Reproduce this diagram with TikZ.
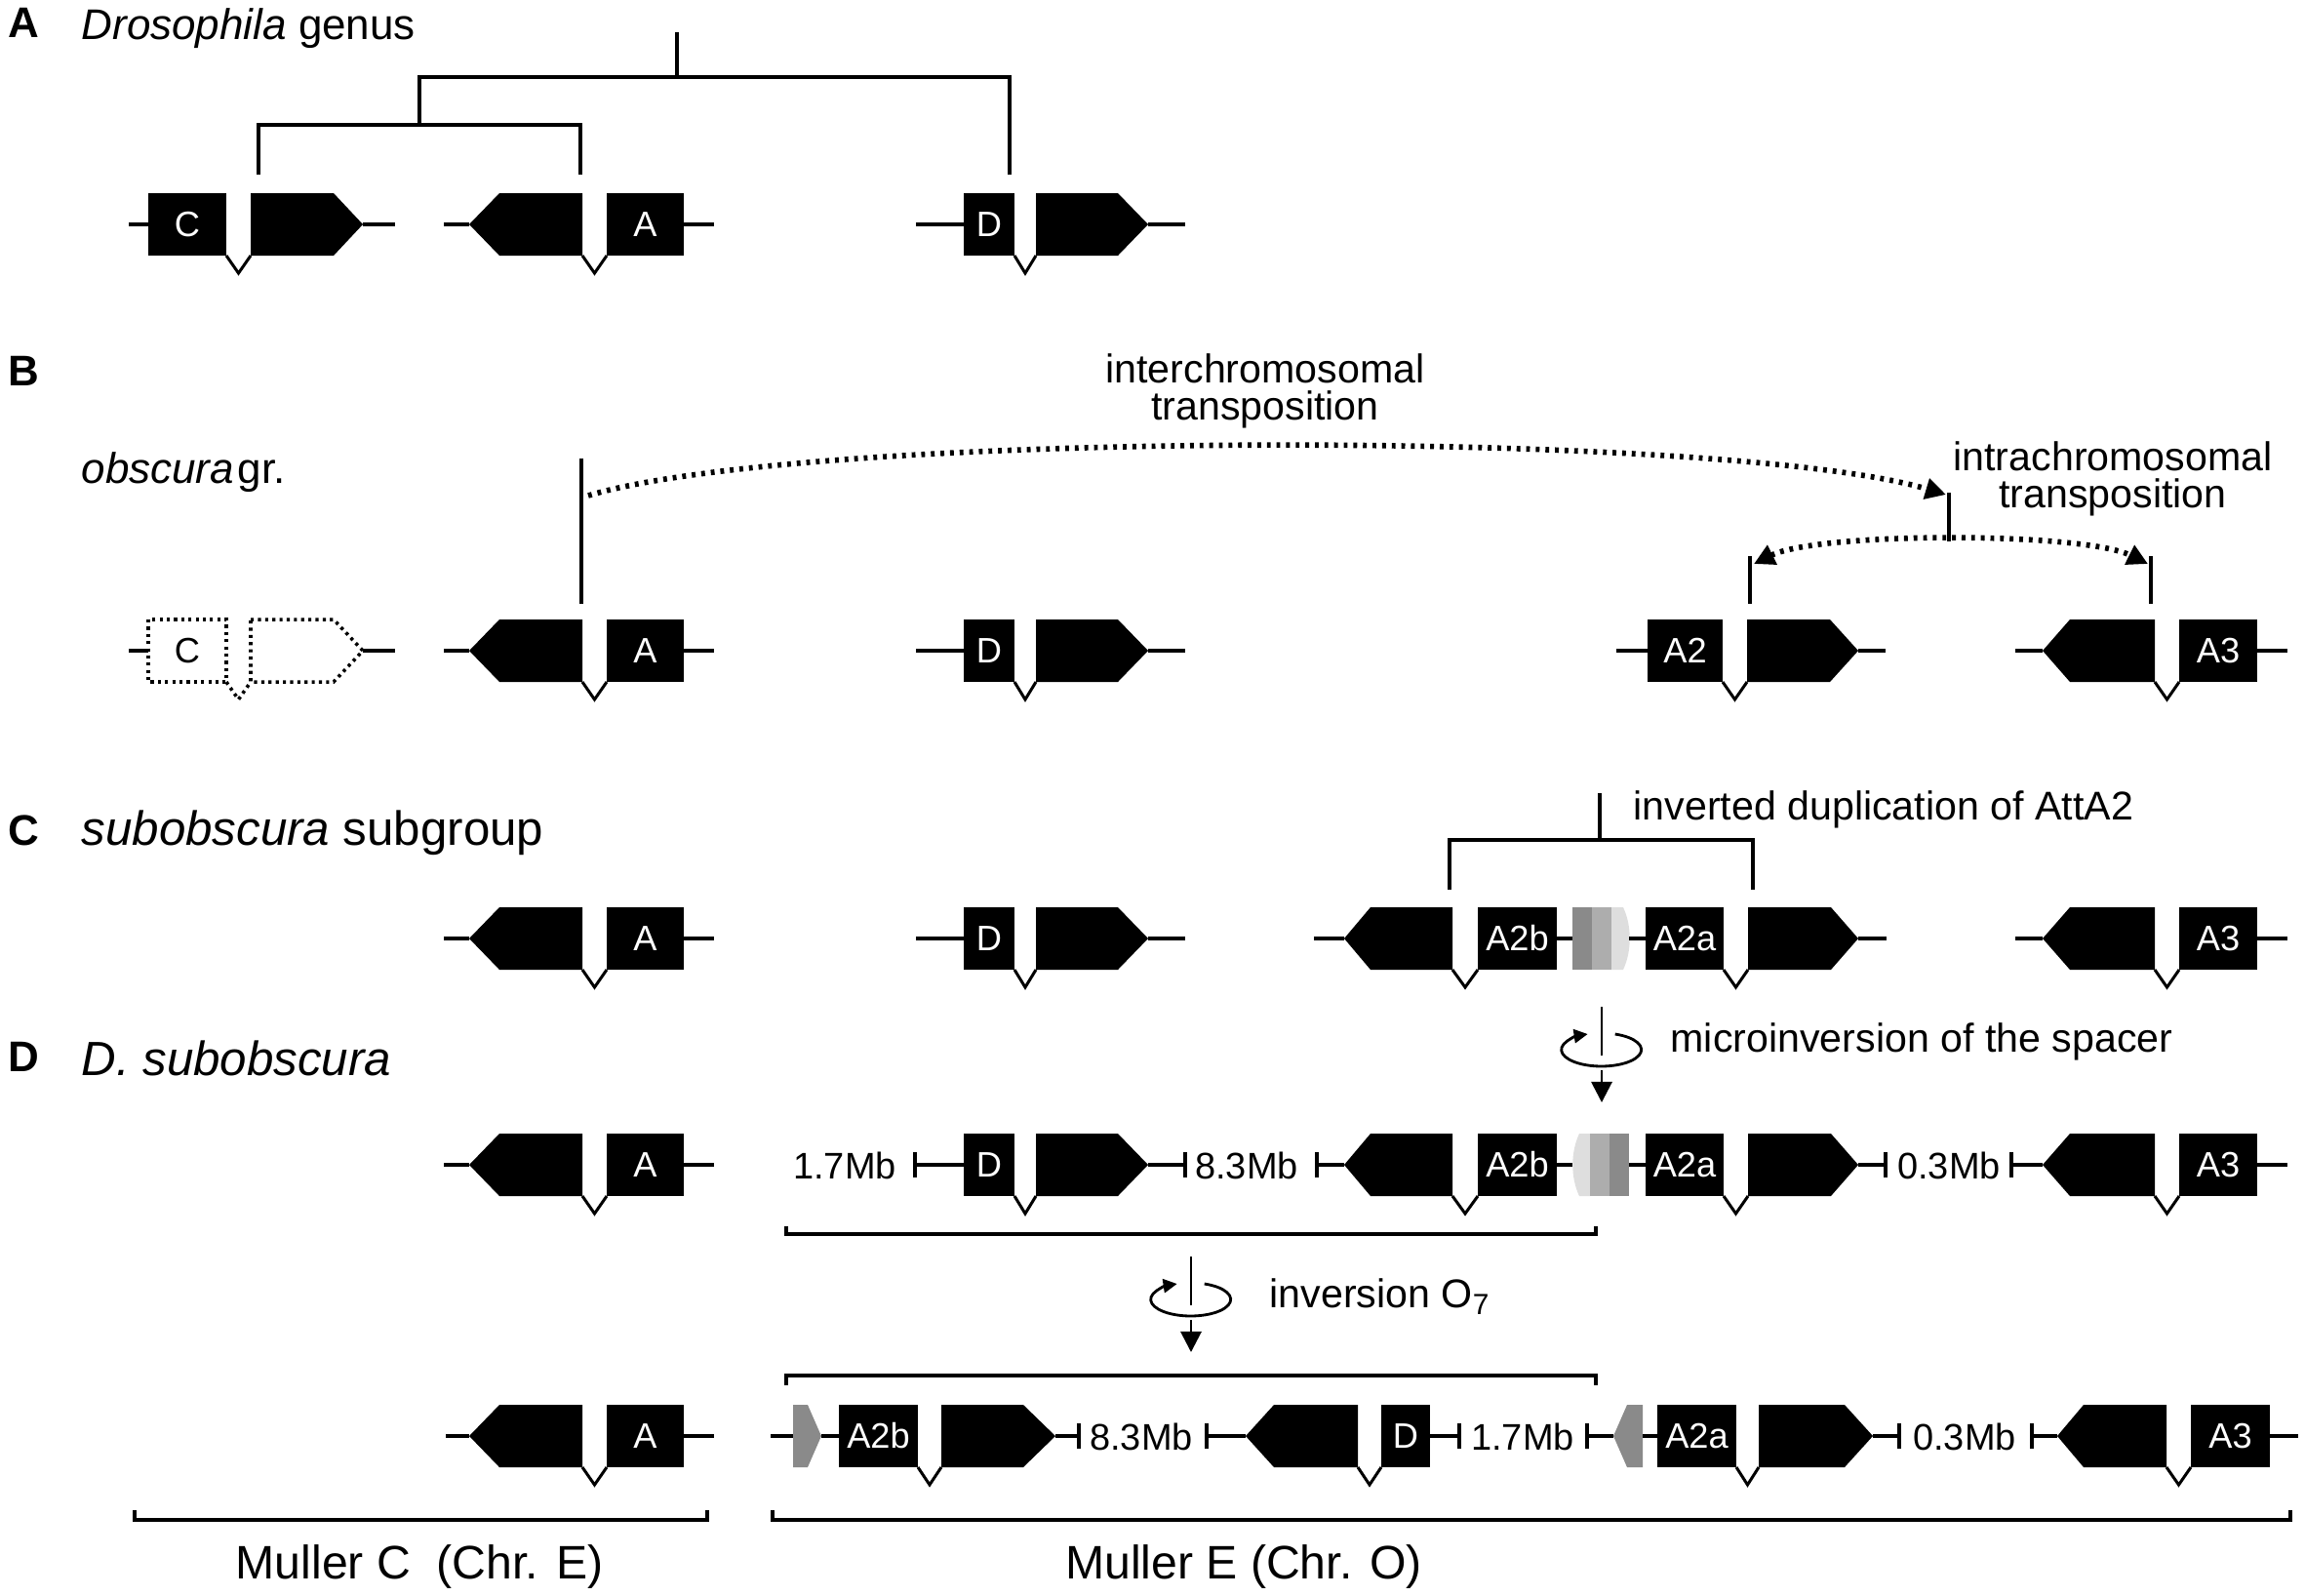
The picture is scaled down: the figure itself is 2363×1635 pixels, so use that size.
\documentclass[tikz,border=0pt]{standalone}
\usepackage{fontspec}
\setmainfont{Liberation Sans}
\usetikzlibrary{arrows.meta}
\newcounter{gcnt}
\definecolor{sdark}{HTML}{8A8A8A}
\definecolor{smid}{HTML}{ADADAD}
\definecolor{slight}{HTML}{DEDEDE}
\tikzset{
  chrom/.style={line width=1.35pt},
  treeln/.style={line width=1.15pt, line join=miter},
  vline/.style={line width=0.85pt, line join=miter},
  barst/.style={line width=1.1pt},
  glabel/.style={text=white, font=\fontsize{10.3}{12}\selectfont, inner sep=0pt},
  dotarr/.style={line width=1.6pt, dash pattern=on 1.1pt off 1.7pt},
  dotbox/.style={line width=1pt, dash pattern=on 0.9pt off 1.2pt},
  lab/.style={font=\fontsize{11.7}{10.8}\selectfont, inner sep=0pt},
  mbl/.style={font=\fontsize{10.8}{12}\selectfont, inner sep=0pt},
  ptitle/.style={font=\fontsize{12.5}{14}\selectfont, inner sep=0pt, anchor=base west},
  ptitleL/.style={font=\fontsize{14}{16}\selectfont, inner sep=0pt, anchor=base west},
  pletter/.style={font=\fontsize{12.5}{14}\selectfont\bfseries, inner sep=0pt, anchor=base west},
  muller/.style={font=\fontsize{13.7}{15}\selectfont, inner sep=0pt, anchor=base},
  tipA/.tip={Triangle[length=6pt,width=6pt]},
  tipB/.tip={Triangle[length=4pt,width=4pt]},
}
% forward gene: y, line start, box1 left, box1 right, box2 left, flat end, tip, line end, label
\newcommand{\fgene}[9]{%
  \draw[chrom] (#2,#1) -- (#3,#1);
  \draw[chrom] (#7,#1) -- (#8,#1);
  \fill (#3,{#1-32}) rectangle (#4,{#1+32});
  \stepcounter{gcnt}\node[glabel] (g\arabic{gcnt}) at ({(#3+#4)/2},#1) {#9};
  \fill (#5,{#1-32}) -- (#6,{#1-32}) -- (#7,#1) -- (#6,{#1+32}) -- (#5,{#1+32}) -- cycle;
  \draw[vline] (#4,{#1+32}) -- ({(#4+#5)/2},{#1+50}) -- (#5,{#1+32});
}
% reverse gene: y, line start, tip, flat start, box2 right, label box left, label box right, line end, label
\newcommand{\rgene}[9]{%
  \draw[chrom] (#2,#1) -- (#3,#1);
  \draw[chrom] (#7,#1) -- (#8,#1);
  \fill (#3,#1) -- (#4,{#1-32}) -- (#5,{#1-32}) -- (#5,{#1+32}) -- (#4,{#1+32}) -- cycle;
  \fill (#6,{#1-32}) rectangle (#7,{#1+32});
  \stepcounter{gcnt}\node[glabel] (g\arabic{gcnt}) at ({(#6+#7)/2},#1) {#9};
  \draw[vline] (#5,{#1+32}) -- ({(#5+#6)/2},{#1+50}) -- (#6,{#1+32});
}
\newcommand{\gbar}[2]{\draw[barst] (#1,{#2-13}) -- (#1,{#2+13});}
\newcommand{\invsym}[2]{%
  \draw[line width=0.8pt] (#1,#2) -- (#1,{#2+50});
  \draw[line width=0.8pt,-tipB] ({#1+13.7},{#2+28}) arc[start angle=-70, end angle=250, x radius=41, y radius=17];
  \draw[line width=0.8pt,-tipA] (#1,{#2+65}) -- (#1,{#2+98});
}
\begin{document}
\begin{tikzpicture}[x=0.01cm,y=-0.01cm]
\useasboundingbox (0,0) rectangle (2363,1635);

% ---------- panel A ----------
\node[pletter] (LA) at (8,38) {A};
\node[ptitle] (TA) at (83,40) {\textit{Drosophila} genus};
\fgene{230}{132}{152}{232}{257}{342}{372}{405}{C}
\rgene{230}{455}{481}{512}{597}{622}{701}{732}{A}
\fgene{230}{939}{988}{1040}{1062}{1146}{1177}{1215}{D}
\coordinate (root) at (694,33);
\draw[treeln] (root) -- (694,79);
\draw[treeln] (430,128) -- (430,79) -- (1035,79) -- (1035,179);
\draw[treeln] (265,179) -- (265,128) -- (595,128) -- (595,179);

% ---------- panel B ----------
\node[pletter] (LB) at (8,395) {B};
\node[ptitle] (TB) at (83,495) {\textit{obscura}\hspace{0.08em}gr.};
\draw[chrom] (132,667) -- (152,667);
\draw[chrom] (372,667) -- (405,667);
\draw[dotbox] (152,635) rectangle (232,699);
\draw[dotbox] (257,635) -- (342,635) -- (372,667) -- (342,699) -- (257,699) -- cycle;
\draw[dotbox] (232,699) -- (244.5,717) -- (257,699);
\node[font=\fontsize{10.3}{12}\selectfont, inner sep=0pt] (gCd) at (192,667) {C};
\rgene{667}{455}{481}{512}{597}{622}{701}{732}{A}
\fgene{667}{939}{988}{1040}{1062}{1146}{1177}{1215}{D}
\fgene{667}{1657}{1689}{1766}{1791}{1876}{1905}{1933}{A2}
\rgene{667}{2066}{2094}{2122}{2209}{2234}{2314}{2345}{A3}
\coordinate (vA) at (596,470);
\coordinate (vT) at (1998,505);
\draw[treeln] (vA) -- (596,619);
\draw[treeln] (vT) -- (1998,555);
\draw[treeln] (1794,570) -- (1794,619);
\draw[treeln] (2205,570) -- (2205,619);
\draw[dotarr,-tipA] (603,508) .. controls (830,440) and (1770,440) .. (1995,507);
\draw[dotarr,tipA-tipA] (1798,578) .. controls (1865,545) and (2135,545) .. (2202,578);
\node[lab, align=center, anchor=north] (inter) at (1297,362) {interchromosomal\\transposition};
\node[lab, align=center, anchor=north] (intra) at (2166,452) {intrachromosomal\\transposition};

% ---------- panel C ----------
\node[pletter] (LC) at (8,866) {C};
\node[ptitleL] (TC) at (83,866) {\textit{subobscura} subgroup};
\rgene{962}{455}{481}{512}{597}{622}{701}{732}{A}
\fgene{962}{939}{988}{1040}{1062}{1146}{1177}{1215}{D}
\rgene{962}{1347}{1378}{1405}{1489}{1515}{1596}{1612}{A2b}
\fill[sdark] (1612,930) rectangle (1632,994);
\fill[smid] (1632,930) rectangle (1652,994);
\fill[slight] (1652,930) -- (1664,930) .. controls (1673,949) and (1673,975) .. (1664,994) -- (1652,994) -- cycle;
\fgene{962}{1670}{1687}{1767}{1792}{1877}{1905}{1934}{A2a}
\rgene{962}{2066}{2094}{2122}{2209}{2234}{2314}{2345}{A3}
\draw[treeln] (1640,813) -- (1640,861);
\draw[treeln] (1486,912) -- (1486,861) -- (1797,861) -- (1797,912);
\node[lab, anchor=base west] (dup) at (1674,840) {inverted duplication of AttA2};

% ---------- panel D ----------
\node[pletter] (LD) at (8,1098) {D};
\node[ptitleL] (TD) at (83,1102) {\textit{D. subobscura}};
\invsym{1642}{1032}
\node[lab, anchor=base west] (micro) at (1712,1078) {microinversion of the spacer};

% row D1
\rgene{1194}{455}{481}{512}{597}{622}{701}{732}{A}
\node[mbl, anchor=base] (m1) at (866,1208) {1.7Mb};
\gbar{938}{1194}
\fgene{1194}{938}{988}{1040}{1062}{1146}{1177}{1215}{D}
\gbar{1215}{1194}
\node[mbl, anchor=base] (m2) at (1278,1208) {8.3Mb};
\gbar{1350}{1194}
\rgene{1194}{1350}{1378}{1405}{1489}{1515}{1596}{1612}{A2b}
\fill[slight] (1630,1162) -- (1619,1162) .. controls (1610,1181) and (1610,1207) .. (1619,1226) -- (1630,1226) -- cycle;
\fill[smid] (1630,1162) rectangle (1650,1226);
\fill[sdark] (1650,1162) rectangle (1670,1226);
\fgene{1194}{1670}{1687}{1767}{1792}{1877}{1905}{1933}{A2a}
\gbar{1933}{1194}
\node[mbl, anchor=base] (m3) at (1998,1208) {0.3Mb};
\gbar{2062}{1194}
\rgene{1194}{2062}{2094}{2122}{2209}{2234}{2314}{2345}{A3}

% brackets and inversion
\draw[treeln] (806,1257) -- (806,1265) -- (1636,1265) -- (1636,1257);
\invsym{1221}{1288}
\node[lab, anchor=base west] (inv) at (1301,1340) {inversion O\raisebox{-0.35ex}{\fontsize{8.5}{9}\selectfont 7}};
\draw[treeln] (806,1420) -- (806,1410) -- (1636,1410) -- (1636,1420);

% row D2
\rgene{1472}{457}{481}{512}{597}{622}{701}{732}{A}
\draw[chrom] (790,1472) -- (813,1472);
\fill[sdark] (813,1440) -- (828,1440) -- (842,1472) -- (828,1504) -- (813,1504) -- cycle;
\draw[chrom] (842,1472) -- (860,1472);
\fgene{1472}{860}{860}{941}{965}{1049}{1082}{1106}{A2b}
\gbar{1106}{1472}
\node[mbl, anchor=base] (m4) at (1170,1486) {8.3Mb};
\gbar{1237}{1472}
\rgene{1472}{1237}{1277}{1306}{1392}{1416}{1466}{1496}{D}
\gbar{1496}{1472}
\node[mbl, anchor=base] (m5) at (1561,1486) {1.7Mb};
\gbar{1627}{1472}
\draw[chrom] (1627,1472) -- (1654,1472);
\fill[sdark] (1654,1472) -- (1668,1440) -- (1684,1440) -- (1684,1504) -- (1668,1504) -- cycle;
\draw[chrom] (1684,1472) -- (1699,1472);
\fgene{1472}{1699}{1699}{1780}{1803}{1891}{1920}{1947}{A2a}
\gbar{1947}{1472}
\node[mbl, anchor=base] (m6) at (2014,1486) {0.3Mb};
\gbar{2083}{1472}
\rgene{1472}{2083}{2109}{2136}{2221}{2246}{2327}{2356}{A3}

% bottom brackets
\draw[treeln] (138,1548) -- (138,1558) -- (725,1558) -- (725,1548);
\draw[treeln] (792,1548) -- (792,1558) -- (2348,1558) -- (2348,1548);
\node[muller] (mC) at (430,1618) {Muller C\ \ (Chr. E)};
\node[muller] (mE) at (1275,1618) {Muller E (Chr. O)};
\end{tikzpicture}
\end{document}
